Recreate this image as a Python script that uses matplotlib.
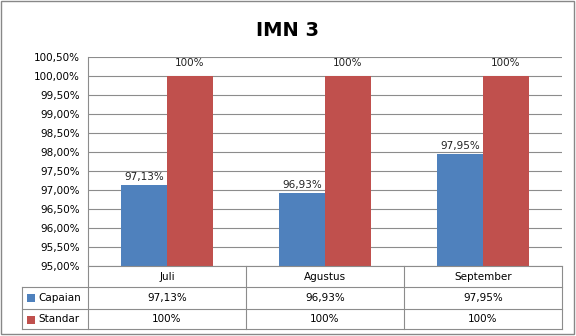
import matplotlib.pyplot as plt
from matplotlib.lines import Line2D
from matplotlib.patches import Rectangle
import numpy as np

months = ["Juli", "Agustus", "September"]
capaian = [97.13, 96.93, 97.95]
standar = [100, 100, 100]
capaian_labels = ["97,13%", "96,93%", "97,95%"]
standar_labels = ["100%", "100%", "100%"]
yticks = [95.0, 95.5, 96.0, 96.5, 97.0, 97.5, 98.0, 98.5, 99.0, 99.5, 100.0, 100.5]

W, H = 576, 336
blue = "#4F81BD"
red = "#C0504D"
grid_c = "#8C8C8C"
fs = 7.5


def fx(x):
    return x / W


def fy(y):
    return 1 - y / H


fig = plt.figure(figsize=(W / 100, H / 100), dpi=100)

# outer border of the chart
fig.add_artist(Rectangle((fx(1), fy(334)), fx(573), (333) / H, transform=fig.transFigure,
                         fill=False, edgecolor="#888888", lw=1))

left, right, top, bottom = 88, 562, 57, 266
ax = fig.add_axes([fx(left), fy(bottom), (right - left) / W, (bottom - top) / H])

x = np.arange(len(months))
w = 0.29
ax.bar(x - w / 2, capaian, w, color=blue, zorder=3)
ax.bar(x + w / 2, standar, w, color=red, zorder=3)

for i in range(len(months)):
    ax.text(x[i] - w / 2, capaian[i] + 0.08, capaian_labels[i], ha="center", va="bottom",
            fontsize=fs, color="#222222")
    ax.text(x[i] + w / 2, standar[i] + 0.2, standar_labels[i], ha="center", va="bottom",
            fontsize=fs, color="#222222")

ax.set_xlim(-0.5, len(months) - 0.5)
ax.set_ylim(95, 100.5)
ax.set_yticks(yticks)
ax.set_yticklabels([("%.2f%%" % t).replace(".", ",") for t in yticks], fontsize=fs)
ax.yaxis.grid(True, color=grid_c, lw=0.8, zorder=0)
ax.set_xticks([])
ax.tick_params(axis="y", length=0, pad=6)
for s in ["top", "right", "bottom"]:
    ax.spines[s].set_visible(False)
ax.spines["left"].set_color(grid_c)

fig.text(fx(288), fy(30), "IMN 3", ha="center", va="center", fontsize=14, fontweight="bold")

# data table under the plot
rows = [266, 287, 309, 329]
cols = [left, 246, 404, right]


def line(x0, y0, x1, y1):
    fig.add_artist(Line2D([fx(x0), fx(x1)], [fy(y0), fy(y1)], transform=fig.transFigure,
                          color=grid_c, lw=0.8))


line(left, 266, right, 266)
line(22, 287, right, 287)
line(22, 309, right, 309)
line(22, 329, right, 329)
line(22, 287, 22, 329)
line(left, 266, left, 329)
for c in cols[1:]:
    line(c, 266, c, 329)

for i, m in enumerate(months):
    cx = (cols[i] + cols[i + 1]) / 2
    fig.text(fx(cx), fy(277), m, ha="center", va="center", fontsize=fs)
    fig.text(fx(cx), fy(298), capaian_labels[i], ha="center", va="center", fontsize=fs)
    fig.text(fx(cx), fy(319.5), standar_labels[i], ha="center", va="center", fontsize=fs)

for ry, name, col in [(298, "Capaian", blue), (319.5, "Standar", red)]:
    fig.add_artist(Rectangle((fx(26.5), fy(ry + 4)), 8 / W, 8 / H, transform=fig.transFigure,
                             facecolor=col, edgecolor="none"))
    fig.text(fx(38), fy(ry), name, ha="left", va="center", fontsize=fs)

fig.savefig("out.png", dpi=100)
